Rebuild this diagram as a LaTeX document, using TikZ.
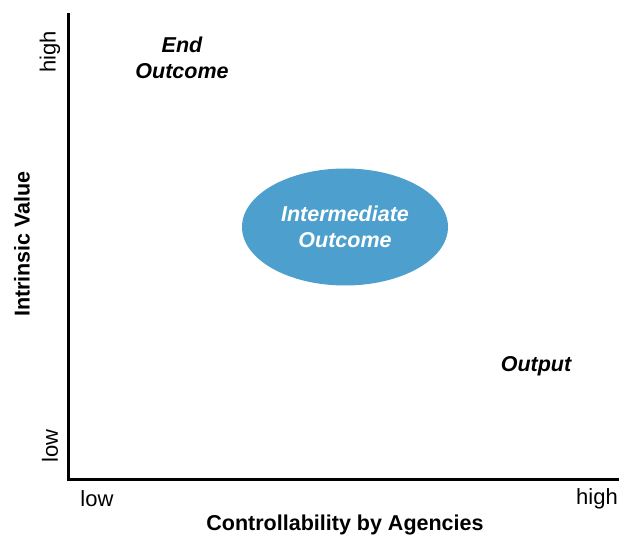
\documentclass[tikz,border=0pt]{standalone}
\usepackage{fontspec}
\setmainfont{Liberation Sans}
\usetikzlibrary{shapes.geometric}
\definecolor{ovalblue}{HTML}{4DA0CD}

\begin{document}
\begin{tikzpicture}[x=1pt, y=-1pt]
\tikzstyle{every node}=[font=\fontsize{22}{26}\selectfont, align=center, inner sep=0pt];
\tikzstyle{zone}=[font=\fontsize{21.5}{26}\selectfont\bfseries\itshape];
\tikzstyle{axistitle}=[font=\fontsize{21.5}{24}\selectfont\bfseries];
\useasboundingbox (0,0) rectangle (619,537);
\path (68,13) coordinate (ytop);
\path (68,479) coordinate (origin);
\path (619,479) coordinate (xend);
\draw[line width=3pt] (ytop) -- (origin) -- (xend);
\path (50,52) node[rotate=90] (yhigh) {high};
\path (50,446) node[rotate=90] (ylow) {low};
\path (22,244) node[rotate=90, axistitle] (ytitle) {Intrinsic Value};
\path (97,499) node (xlow) {low};
\path (597,499) node (xhigh) {high};
\path (345,525) node[axistitle] (xtitle) {Controllability by Agencies};
\path (182,58) node[zone] (endout) {End\\Outcome};
\path (345,227) node[ellipse, fill=ovalblue, minimum width=206pt, minimum height=117pt, text=white, zone] (inter) {Intermediate\\Outcome};
\path (536,366) node[zone] (output) {Output};
\end{tikzpicture}
\end{document}
